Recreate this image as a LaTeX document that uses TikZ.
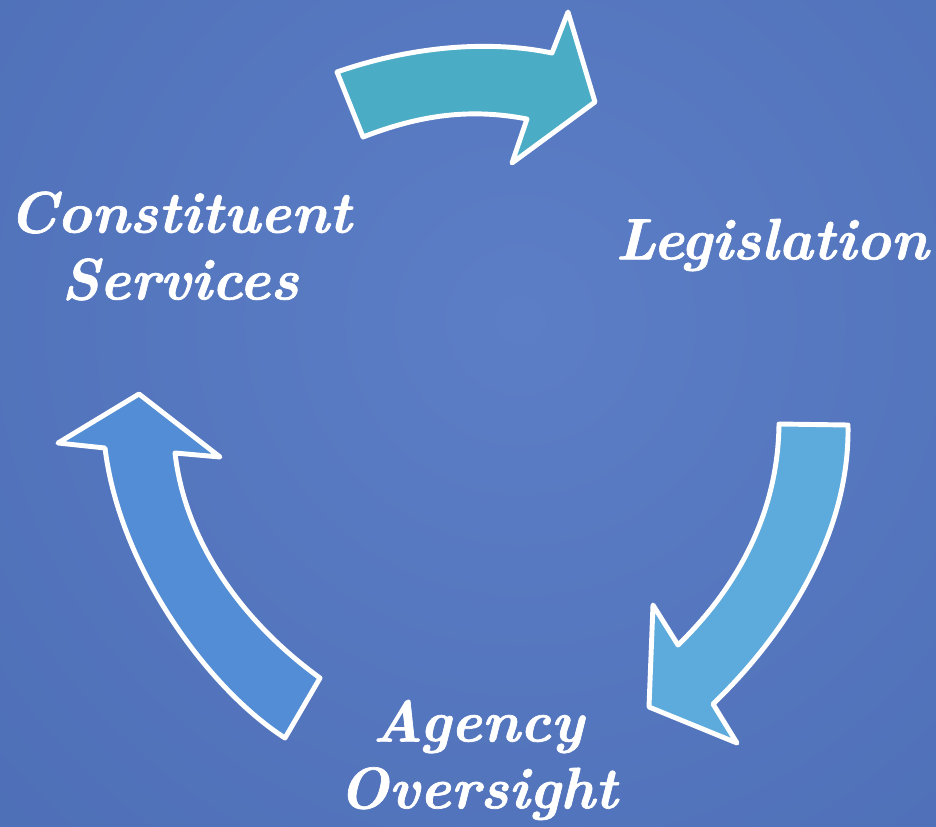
\documentclass[tikz,border=0pt]{standalone}
\usepackage{fontspec}
\setmainfont{lmroman10-regular.otf}[BoldItalicFont=lmroman10-bolditalic.otf, BoldItalicFeatures={FakeBold=1.2}]
\usetikzlibrary{shapes.geometric, arrows}
\definecolor{bgout}{RGB}{64,97,168}
\definecolor{bgin}{RGB}{92,126,198}
\definecolor{tealfill}{RGB}{75,172,198}
\definecolor{skyfill}{RGB}{93,171,220}
\definecolor{bluefill}{RGB}{83,141,213}
\tikzstyle{label} = [text=white, align=center, font=\fontsize{16.6}{19}\selectfont\bfseries\itshape]
\tikzstyle{bigarrow} = [draw=white, line width=1.4pt, line join=round]

\begin{document}
\begin{tikzpicture}[x=0.01cm, y=-0.01cm]
\useasboundingbox (0,0) rectangle (936,827);
\fill [bgout] (0,0) rectangle (936,827);
\begin{scope}
\clip (0,0) rectangle (936,827);
\shade [inner color=bgin, outer color=bgout] (520,320) circle (1450);
\end{scope}

\node (services) [label] at (180,246) {Constituent\\Services};
\node (legis) [label] at (772,245) {Legislation};
\node (oversight) [label] at (478,760) {Agency\\Oversight};

% top arrow
\filldraw [bigarrow, fill=tealfill] (337,72) .. controls (400,50) and (480,38) .. (552,53) -- (568,12) -- (595,102) -- (512,163) -- (527,119) .. controls (470,108) and (420,115) .. (363,137) -- cycle;
% right arrow
\filldraw [bigarrow, fill=skyfill] (779,424) -- (848,425) .. controls (850,530) and (790,630) .. (713,704) -- (737,743) -- (649,707) -- (653,605) -- (678,645) .. controls (740,585) and (778,510) .. (779,424) -- cycle;
% left arrow
\filldraw [bigarrow, fill=bluefill] (320,678) -- (285,738) .. controls (210,690) and (120,570) .. (105,448) -- (58,443) -- (139,394) -- (220,457) -- (175,453) .. controls (185,540) and (240,620) .. (320,678) -- cycle;
\end{tikzpicture}
\end{document}
